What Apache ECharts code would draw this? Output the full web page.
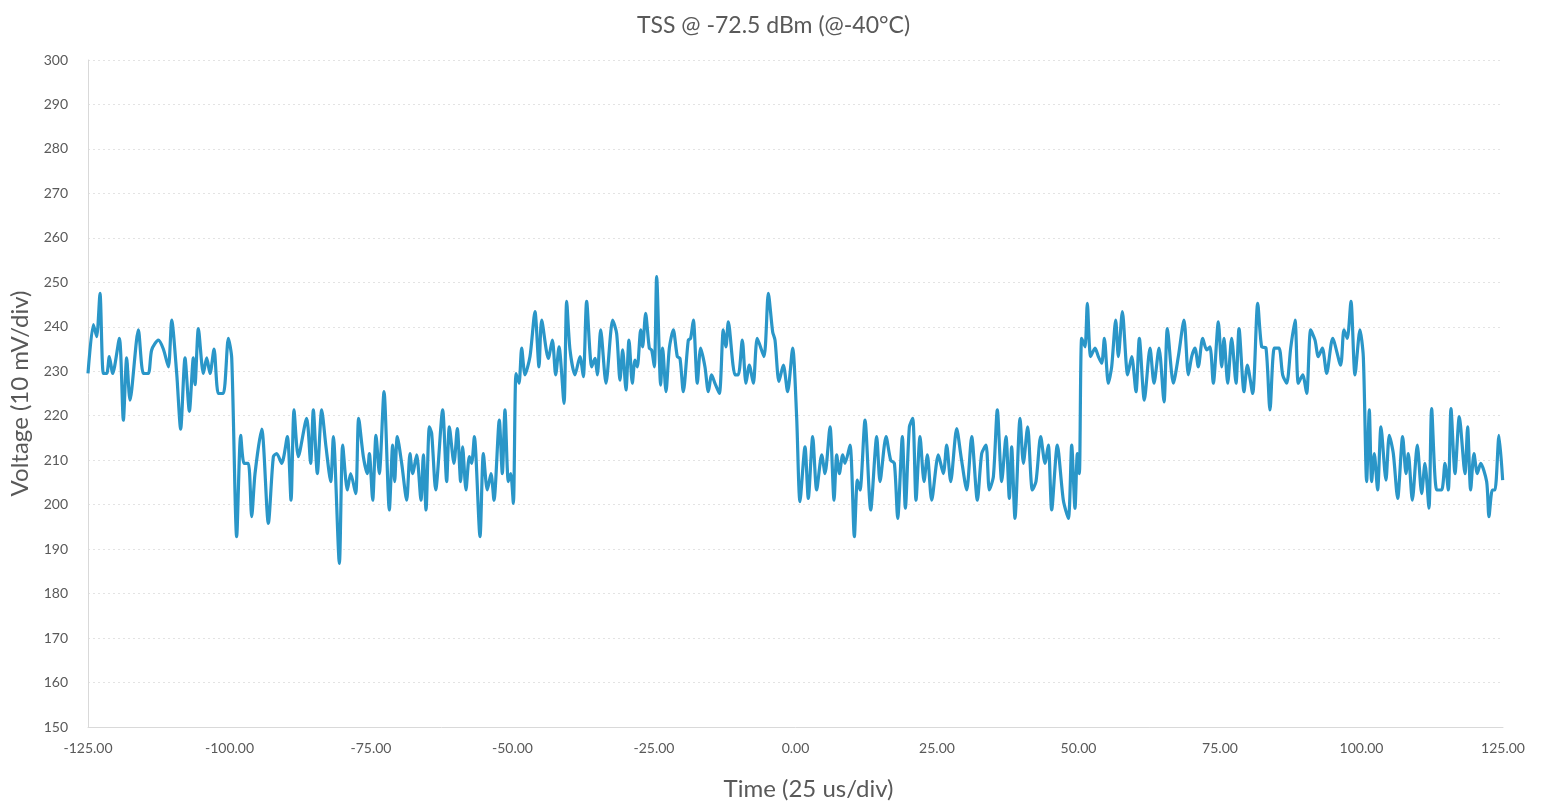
<!DOCTYPE html>
<html>
<head>
<meta charset="utf-8">
<script src="https://cdn.jsdelivr.net/npm/echarts@6/dist/echarts.min.js"></script>
<style>
html,body{margin:0;padding:0;background:#fff;}
#chart{width:1547px;height:804px;}
</style>
</head>
<body>
<div id="chart"></div>
<script>
// Time samples (us)
const timeUs = [
-125,-124.05,-123.47,-122.88,-122.29,-121.70,-121.23,-120.64,-119.46,-118.75,-118.17,-117.58,-116.10,-115.22,-114.34,-113.75,-112.57,-111.69,-110.80,-110.21,-109.33,-108.63,-107.86,-107.09,-106.39,-106.09,-105.50,-104.62,-104.03,-103.44,-102.73,-101.97,-101.09,-100.20,-99.61,-98.73,-98.02,-97.43,-96.67,-96.08,-95.49,-94.31,-93.14,
-92.25,-91.67,-90.78,-89.78,-89.13,-88.60,-87.84,-86.37,-85.66,-85.19,-84.48,-83.71,-82.95,-82.12,-81.65,-80.59,-80.00,-79.18,-78.59,-77.71,-77.18,-76.35,-75.65,-75.29,-74.70,-74.12,-73.53,-72.70,-71.76,-71.17,-70.82,-70.35,-69.58,-68.70,-68.11,-67.64,-66.93,-66.17,-65.75,-65.28,-64.69,-64.28,-63.57,-62.34,-61.63,
-61.16,-60.34,-59.75,-59.16,-58.81,-58.22,-57.63,-57.22,-56.74,-55.74,-55.15,-54.45,-53.80,-53.27,-52.33,-51.80,-51.33,-50.74,-50.32,-49.85,-49.38,-48.85,-48.38,-47.79,-46.91,-46.03,-45.32,-44.85,-43.67,-42.96,-42.37,-41.78,-40.90,-40.43,-39.84,-38.96,-38.08,-37.49,-36.90,-36.01,-35.43,-35.01,-34.42,-33.48,-32.30,-31.60,
-31.01,-30.54,-29.95,-29.42,-28.83,-28.36,-27.95,-27.36,-27.01,-26.48,-25.83,-25.42,-24.94,-24.53,-23.82,-23.47,-22.88,-22.29,-21.59,-20.88,-20.41,-19.82,-18.94,-18.53,-18.05,-17.35,-16.76,-16.00,-15.40,-14.82,-14.23,-13.46,-12.75,-12.28,-11.87,-10.69,-10.10,-9.40,-8.75,-8.16,-7.45,-6.75,-5.57,-4.80,-4.04,-3.62,-2.92,-2.15,-1.39,-0.50,0.20,0.79,1.68,2.26,
3.04,3.74,4.63,5.22,6.10,6.81,7.28,7.75,8.34,8.75,9.63,10.40,10.93,11.40,12.28,13.29,14.35,14.93,16.00,16.82,17.47,18.06,18.88,19.41,20.12,20.71,21.29,22.00,22.71,23.30,24.06,25.24,26.12,26.71,27.42,28.48,29.25,30.25,31.13,32.13,32.90,
33.66,34.25,34.96,35.66,36.43,37.19,37.78,38.19,38.78,39.67,40.26,41.02,41.85,42.49,43.32,44.08,44.67,45.26,46.26,47.32,48.21,48.80,49.38,49.80,50.15,50.56,51.15,51.56,52.15,52.92,53.51,54.10,54.57,55.27,55.86,56.57,57.04,57.75,58.69,59.40,60.16,60.75,61.63,62.64,63.34,64.23,
65.11,65.70,66.76,67.64,68.64,69.41,70.00,70.58,71.17,71.94,72.65,73.23,73.82,74.71,75.30,75.71,76.36,77.06,77.83,78.36,79.24,79.83,80.77,81.66,82.36,83.13,83.83,84.60,85.42,86.07,86.78,87.49,88.25,88.84,89.61,90.31,91.02,91.79,92.37,93.08,93.85,94.91,
96.31,96.90,97.49,98.14,98.85,99.73,100.32,100.91,101.38,101.79,102.26,102.85,103.44,104.32,104.91,105.62,106.39,107.27,107.86,108.27,108.98,109.86,110.63,111.21,111.92,112.39,113.28,114.16,114.75,115.34,115.81,116.52,117.28,118.28,118.75,119.28,119.87,120.46,121.05,122.11,122.52,123.11,123.58,124.29,124.94
];
// Voltage readings (10 mV/div scale)
const voltage = [
229.5,240.5,237.8,247.5,229.5,229.5,233.3,229.5,237.4,219,233,223.5,239.3,229.5,229.5,234.8,237,235,231,241.5,229.5,217,233,221,233,227,239.6,229.5,233,229.5,235,225,225,237.4,233,192.8,215.6,209.3,209.3,197.3,207,217,195.8,
210.8,211.5,209.3,215.3,201,221.3,210.8,219.4,209.3,221.3,207,221.3,213,205.2,215.3,186.8,213.4,203.3,207,202.5,219.4,210.8,207,211.5,201,215.6,207,225.4,198.8,213.4,205.2,215.3,209.3,201,211.5,207,211.2,201,211.2,198.8,217.5,216,203.3,221.3,205.2,
217.5,209.3,217.1,205.2,213,203.3,210.8,209.3,215.3,192.8,211.5,203.3,207,201,219,207,221.3,205.2,207,200.3,229.5,227.3,235.2,229.2,233.3,243.4,231,241.5,232.9,237,229.2,235.5,222.8,245.7,234.8,229.2,233.3,228.8,245.7,231,232.9,229.2,239.3,227.3,241.5,238.5,
228,234.8,225.8,237,227.3,232.5,231,239.3,235.5,243,235.2,234.8,231,251.3,226.9,235.2,225.4,235.2,239.3,233.3,232.9,225.4,237,237.4,241.5,227.3,235.2,231,225.4,229.2,227.3,225,239.3,235.5,241.1,229.2,229.2,237,227.3,231.4,227.3,237.4,233.3,247.5,238.9,237,227.7,231.4,225.4,235.2,219.8,200.7,213,201.4,
215.3,203.3,211.2,207,217.5,201,211.2,207,211.2,209.3,213.4,192.8,205.5,203.3,219,198.8,215.3,205.2,215.3,210,209.3,196.9,215.3,199.2,217.5,219.4,201,215.3,205.2,211.2,201,211.2,207,213.4,205.2,217.1,210.8,203.3,215.3,201,211.5,
213.4,203.3,206.3,221.3,205.2,215.3,201.4,213,196.9,219.4,209.3,217.5,203.3,205.2,215.3,209.3,213.4,198.8,213.4,201,196.9,213.4,199.2,211.5,207,237.4,235.5,245.3,233.3,235.2,233.3,231.8,237.4,227.3,231,241.5,233.3,243.4,229.2,233.3,225.4,237.4,223.5,235.2,227.3,235.2,
223.1,239.6,227.3,233.3,241.5,229.2,233.3,235.2,231,237.4,234.8,235.5,227.3,241.1,231,237.4,227.3,237.4,227.3,239.6,225.4,231.4,225,245.3,235.5,235.2,221.3,235.2,235.2,229.2,227.3,235.2,241.5,227.3,229.2,225,239.3,237,233.3,235.2,229.5,237.4,
231.4,239.3,237.4,245.7,229.2,239.3,233.3,205.2,221.3,205.2,211.5,203.3,217.5,205.5,215.6,211.5,201.4,215.3,207,211.5,201,213.4,202.5,209.3,199.2,221.6,203.3,203.3,209.3,203.3,221.6,207,219.8,207,217.5,203.3,211.5,207,209.3,205.2,197.3,203.3,203.3,215.6,205.5
];
const titleText = 'TSS @ -72.5 dBm (@-40°C)';
const xAxisName = 'Time (25 us/div)';
const yAxisName = 'Voltage (10 mV/div)';
const xRange = [-125, 125, 25];
const yRange = [150, 300, 10];

const seriesData = timeUs.map((t, i) => [t, voltage[i]]);
const chart = echarts.init(document.getElementById('chart'));
const FONT = 'Lato';
chart.setOption({
  animation: false,
  backgroundColor: '#ffffff',
  title: {
    text: titleText, left: 'center', top: 9,
    textStyle: {fontFamily: FONT, fontSize: 23, fontWeight: 'normal', color: '#595959'}
  },
  grid: {left: 88, right: 44, top: 60, bottom: 77, containLabel: false, outerBoundsMode: 'none'},
  xAxis: {
    type: 'value', min: xRange[0], max: xRange[1], interval: xRange[2],
    name: xAxisName, nameLocation: 'middle', nameGap: 50,
    nameTextStyle: {fontFamily: FONT, fontSize: 24, color: '#595959', padding: [0, 0, 0, 26]},
    axisLine: {show: true, onZero: false, lineStyle: {color: '#d9d9d9', width: 1}},
    axisTick: {show: false},
    splitLine: {show: false},
    axisLabel: {fontFamily: FONT, fontSize: 14, color: '#595959', margin: 14,
      formatter: v => v.toFixed(2)}
  },
  yAxis: {
    type: 'value', min: yRange[0], max: yRange[1], interval: yRange[2],
    name: yAxisName, nameLocation: 'middle', nameGap: 56,
    nameTextStyle: {fontFamily: FONT, fontSize: 24, color: '#595959'},
    axisLine: {show: true, onZero: false, lineStyle: {color: '#d9d9d9', width: 1}},
    axisTick: {show: false},
    splitLine: {show: true, lineStyle: {color: '#e3e3e3', width: 1, type: [2, 3]}},
    axisLabel: {fontFamily: FONT, fontSize: 14, color: '#595959', margin: 20}
  },
  series: [{
    type: 'line', data: seriesData, showSymbol: false, smooth: 0.25,
    lineStyle: {color: '#2a96c8', width: 3.2}
  }]
});
</script>
</body>
</html>
